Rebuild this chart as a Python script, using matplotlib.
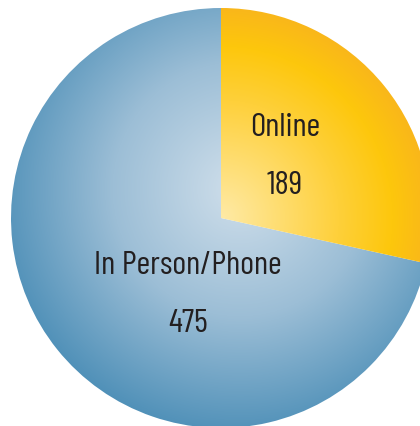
import numpy as np
import matplotlib
matplotlib.use('Agg')
import matplotlib.pyplot as plt
from matplotlib.colors import LinearSegmentedColormap

# data
labels = ['Online', 'In Person/Phone']
values = [189, 475]

plt.rcParams['font.family'] = ['Barlow Condensed', 'DejaVu Sans']

fig = plt.figure(figsize=(4.20, 4.27), dpi=100)
ax = fig.add_axes([0, 0, 1, 1])

cx, cy, R = 221, 208, 210
wedges, _ = ax.pie(values, radius=R, center=(cx, cy), startangle=90,
                   counterclock=False, colors=['none', 'none'],
                   wedgeprops=dict(linewidth=0))

# radial gradient fills, clipped to each wedge
xs = np.linspace(cx - R, cx + R, 600)
ys = np.linspace(cy - R, cy + R, 600)
X, Y = np.meshgrid(xs, ys)
ext = [cx - R, cx + R, cy - R, cy + R]

blue = LinearSegmentedColormap.from_list('b', ['#d0dfeb', '#9cbed6', '#4a8db6'])
d_blue = np.clip(np.hypot(X - 240, Y - 237) / 255, 0, 1)
ax.imshow(d_blue, cmap=blue, extent=ext, origin='lower', clip_path=wedges[1],
          vmin=0, vmax=1, interpolation='bilinear', zorder=1)

orange = LinearSegmentedColormap.from_list(
    'o', [(0, '#ffeaa6'), (0.55, '#fed03a'), (0.8, '#fdc70c'), (1, '#f9b51c')])
d_or = np.clip(np.hypot(X - cx, Y - cy) / 215, 0, 1)
ax.imshow(d_or, cmap=orange, extent=ext, origin='lower', clip_path=wedges[0],
          vmin=0, vmax=1, interpolation='bilinear', zorder=1)

# labels
label_pos = [(285, 299), (188, 161)]
for lab, val, (tx, ty) in zip(labels, values, label_pos):
    ax.text(tx, ty, lab, ha='center', va='center', fontsize=24, color='#231f20', zorder=3)
    ax.text(tx, ty - 58, str(val), ha='center', va='center', fontsize=24, color='#231f20', zorder=3)

ax.set_xlim(0, 420)
ax.set_ylim(0, 427)
ax.set_aspect('auto')
ax.axis('off')

fig.savefig('out.png', dpi=100)
